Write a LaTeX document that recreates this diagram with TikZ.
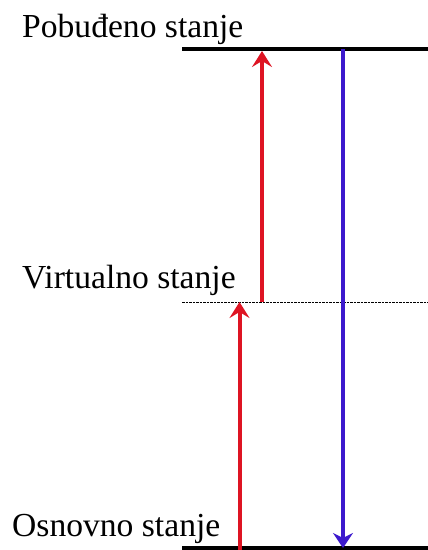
\documentclass[tikz,border=0pt]{standalone}
\usepackage{fontspec}
\setmainfont{Liberation Serif}
\usetikzlibrary{arrows.meta}
\definecolor{exred}{RGB}{222,20,35}
\definecolor{emblue}{RGB}{60,25,205}
\begin{document}
\begin{tikzpicture}[x=1pt,y=-1pt,
  level/.style={line width=4pt,black},
  vlevel/.style={line width=1pt,black,dash pattern=on 2.5pt off 1pt},
  lbl/.style={anchor=base west,inner sep=0pt,font=\fontsize{33.6}{33.6}\selectfont},
  redarr/.style={line width=4pt,exred,-{Stealth[length=16pt,width=20pt,inset=6pt]}},
  bluearr/.style={line width=4pt,emblue,-{Stealth[length=15pt,width=20pt,inset=5pt]}}]
\useasboundingbox (0,0) rectangle (428,550);
\coordinate (e1) at (182,49);
\coordinate (e2) at (428,49);
\coordinate (v1) at (182,302);
\coordinate (v2) at (428,302);
\coordinate (g1) at (182,548);
\coordinate (g2) at (428,548);
\draw[level] (e1) -- (e2);
\draw[vlevel] (v1) -- (v2);
\draw[level] (g1) -- (g2);
\node[lbl] (pob) at (22,37) {Pobuđeno stanje};
\node[lbl] (vir) at (22,288) {Virtualno stanje};
\node[lbl] (osn) at (12,536) {Osnovno stanje};
\coordinate (ra1s) at (239.5,550);
\coordinate (ra1e) at (239.5,302);
\coordinate (ra2s) at (262,302);
\coordinate (ra2e) at (262,51);
\coordinate (bs) at (343,49);
\coordinate (be) at (343,548);
\draw[redarr] (ra1s) -- (ra1e);
\draw[redarr] (ra2s) -- (ra2e);
\draw[bluearr] (bs) -- (be);
\end{tikzpicture}
\end{document}
